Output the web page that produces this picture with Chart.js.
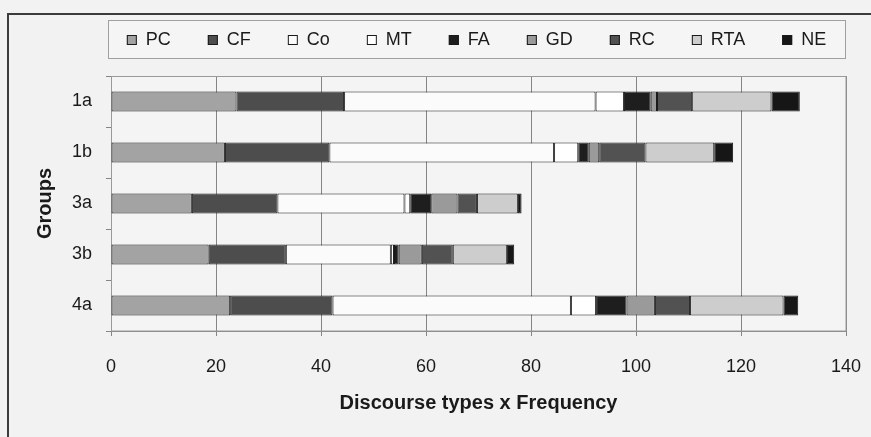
<!DOCTYPE html>
<html lang="en">
<head>
<meta charset="UTF-8">
<title>Discourse types by group</title>
<script src="https://cdn.jsdelivr.net/npm/chart.js"></script>
<style>
  body { margin: 0; background: #f2f2f2; }
  .chart-box { width: 871px; height: 437px; position: relative; }
</style>
</head>
<body>
<div class="chart-box"><canvas id="discourseChart"></canvas></div>
<script>
// groups on the y axis, one stacked bar each
const groups = ['1a', '1b', '3a', '3b', '4a'];

// discourse types, in stacking order
const typeNames = ['PC', 'CF', 'Co', 'MT', 'FA', 'GD', 'RC', 'RTA', 'NE'];
const typeFills = ['#a3a3a3', '#4d4d4d', '#fbfbfb', '#ffffff', '#1e1e1e', '#9a9a9a', '#525252', '#cdcdcd', '#161616'];

// frequency per type, one value per group
const pcValues  = [23.9, 21.7, 15.4, 18.6, 22.7];
const cfValues  = [20.5, 19.9, 16.3, 14.7, 19.5];
const coValues  = [47.9, 42.8, 24.2, 20.0, 45.4];
const mtValues  = [5.4, 4.6, 1.1, 0.6, 4.8];
const faValues  = [5.1, 2.0, 4.0, 0.9, 5.8];
const gdValues  = [1.2, 2.0, 5.0, 4.4, 5.4];
const rcValues  = [6.7, 8.8, 3.7, 5.9, 6.7];
const rtaValues = [15.1, 13.1, 7.8, 10.3, 17.8];
const neValues  = [5.4, 3.6, 0.7, 1.4, 2.8];

const xMax = 140;
const xStep = 20;

const seriesValues = [pcValues, cfValues, coValues, mtValues, faValues, gdValues, rcValues, rtaValues, neValues];

const datasets = typeNames.map((name, i) => ({
    label: name,
    data: seriesValues[i],
    backgroundColor: typeFills[i],
    borderColor: '#1a1a1a',
    borderWidth: 1,
    borderSkipped: false,
    barPercentage: 0.39,
    categoryPercentage: 1
}));

const FONT = '"Liberation Sans", Arial, sans-serif';

// page background, outer frame, plot area fill and border
const framePlugin = {
    id: 'framePlugin',
    beforeDraw(chart) {
        const { ctx, chartArea: a } = chart;
        ctx.save();
        ctx.fillStyle = '#f2f2f2';
        ctx.fillRect(0, 0, chart.width, chart.height);

        ctx.strokeStyle = '#3c3c3c';
        ctx.lineWidth = 2;
        ctx.beginPath();
        ctx.moveTo(8, chart.height);
        ctx.lineTo(8, 14);
        ctx.lineTo(chart.width, 14);
        ctx.stroke();

        ctx.fillStyle = '#f4f4f4';
        ctx.fillRect(a.left, a.top, a.width, a.height);
        ctx.restore();
    },
    beforeDatasetsDraw(chart) {
        const { ctx, chartArea: a } = chart;
        ctx.save();
        ctx.strokeStyle = '#9a9a9a';
        ctx.lineWidth = 1;
        ctx.strokeRect(a.left + 0.5, a.top + 0.5, a.width - 0.5, a.height - 0.5);
        ctx.restore();
    }
};

// one-row boxed legend above the plot, items spaced evenly by their width
const rowLegend = {
    id: 'rowLegend',
    afterDraw(chart) {
        const { ctx, chartArea: a } = chart;
        const boxL = a.left - 3, boxR = a.right - 1, boxT = 20, boxB = 58;
        ctx.save();
        ctx.fillStyle = '#f5f5f5';
        ctx.fillRect(boxL, boxT, boxR - boxL, boxB - boxT);
        ctx.strokeStyle = '#a0a0a0';
        ctx.lineWidth = 1;
        ctx.strokeRect(boxL + 0.5, boxT + 0.5, boxR - boxL, boxB - boxT);

        ctx.font = '18px ' + FONT;
        const sw = 10, gapText = 9, gapItem = 37;
        const items = chart.data.datasets.map(ds => ({
            text: ds.label, fill: ds.backgroundColor, w: sw + gapText + ctx.measureText(ds.label).width
        }));
        const total = items.reduce((s, it) => s + it.w, 0) + gapItem * (items.length - 1);
        let x = (boxL + boxR) / 2 - total / 2;
        const cy = (boxT + boxB) / 2 + 1;
        ctx.textBaseline = 'middle';
        ctx.textAlign = 'left';
        items.forEach(it => {
            ctx.fillStyle = it.fill;
            ctx.fillRect(x, cy - 5, sw, sw);
            ctx.strokeStyle = '#1a1a1a';
            ctx.strokeRect(x + 0.5, cy - 4.5, sw - 1, sw - 1);
            ctx.fillStyle = '#1a1a1a';
            ctx.fillText(it.text, x + sw + gapText, cy);
            x += it.w + gapItem;
        });
        ctx.restore();
    }
};

Chart.defaults.font.family = FONT;
Chart.defaults.color = '#1a1a1a';

new Chart(document.getElementById('discourseChart'), {
    type: 'bar',
    data: { labels: groups, datasets: datasets },
    plugins: [framePlugin, rowLegend],
    options: {
        indexAxis: 'y',
        responsive: true,
        maintainAspectRatio: false,
        animation: false,
        layout: { padding: { left: 0, right: 25, top: 76, bottom: 0 } },
        scales: {
            x: {
                stacked: true,
                min: 0,
                max: xMax,
                ticks: { stepSize: xStep, padding: 20, font: { size: 18 }, color: '#1a1a1a' },
                grid: { color: '#858585', tickColor: '#858585', tickLength: 5, lineWidth: 1 },
                border: { color: '#858585' },
                title: {
                    display: true,
                    text: 'Discourse types x Frequency',
                    font: { size: 20, weight: 'bold' },
                    padding: { top: 0, bottom: 22 }
                },
                afterFit(scale) {
                    scale.height = 106;
                    // tick padding is only meant to push labels down, not in from the sides
                    scale.paddingLeft = 0;
                    scale.paddingRight = 0;
                }
            },
            y: {
                stacked: true,
                ticks: { padding: 14, font: { size: 18 }, color: '#1a1a1a' },
                grid: { drawOnChartArea: false, offset: true, tickColor: '#858585', tickLength: 5 },
                border: { color: '#858585' },
                title: {
                    display: true,
                    text: 'Groups',
                    font: { size: 20, weight: 'bold' },
                    padding: { top: 33, bottom: 0 }
                },
                afterFit(scale) { scale.width = 111; }
            }
        },
        plugins: {
            legend: { display: false },
            tooltip: { enabled: false }
        }
    }
});
</script>
</body>
</html>
